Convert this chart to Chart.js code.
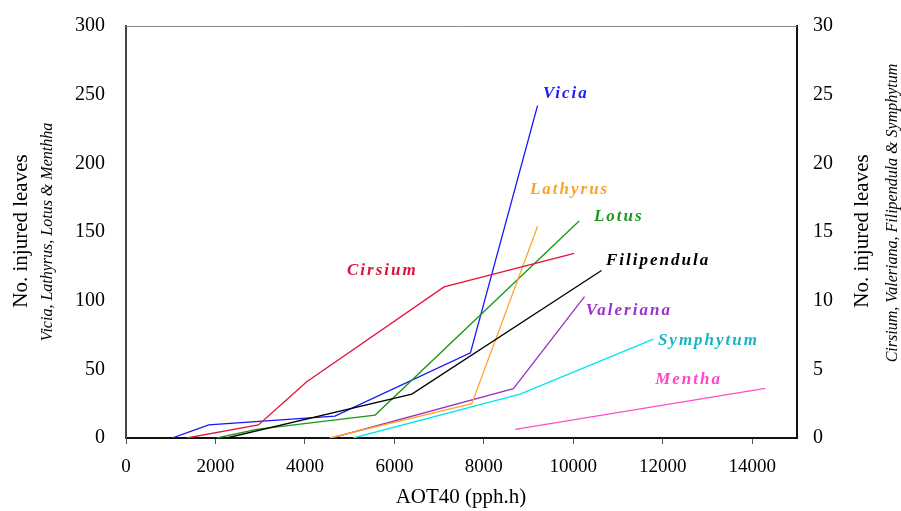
<!DOCTYPE html>
<html>
<head>
<meta charset="utf-8">
<script src="https://cdn.jsdelivr.net/npm/chart.js@4"></script>
<style>
html,body{margin:0;padding:0;background:#fff;}
#wrap{width:901px;height:511px;position:relative;}
</style>
</head>
<body>
<div id="wrap"><canvas id="c" width="901" height="511"></canvas></div>
<script>
// X tick labels
const xTicks = [0, 2000, 4000, 6000, 8000, 10000, 12000, 14000];
const yLeftTicks = [0, 50, 100, 150, 200, 250, 300];
const yRightTicks = [0, 5, 10, 15, 20, 25, 30];

// Left-axis series (Vicia, Lathyrus, Lotus, Mentha)
const viciaX = [1030, 1850, 4670, 7700, 9200];
const viciaY = [0, 9.5, 16, 62, 242];
const lathyrusX = [4550, 7730, 9200];
const lathyrusY = [0, 25, 154];
const lotusX = [2030, 2920, 5570, 10130];
const lotusY = [0, 6.3, 16.7, 158];
const menthaX = [8700, 14290];
const menthaY = [6.3, 36.2];

// Right-axis series (Cirsium, Valeriana, Filipendula, Symphytum)
const cirsiumX = [1360, 2960, 4040, 7110, 10020];
const cirsiumY = [0, 0.95, 4.1, 11.0, 13.45];
const filipendulaX = [2250, 6390, 10630];
const filipendulaY = [0, 3.2, 12.2];
const valerianaX = [4600, 8660, 10250];
const valerianaY = [0, 3.6, 10.3];
const symphytumX = [5080, 8810, 11790];
const symphytumY = [0, 3.2, 7.2];

const pts = (xs, ys) => xs.map((x, i) => ({x: x, y: ys[i]}));

// label text for each series, placed by data coordinates (left axis units)
const labelNames = ['Vicia', 'Lathyrus', 'Lotus', 'Cirsium', 'Filipendula', 'Valeriana', 'Symphytum', 'Mentha'];
const labelAtX = [9320, 9030, 10460, 4940, 10730, 10280, 11890, 11830];
const labelAtY = [251, 181, 161, 122, 129, 92.5, 70.6, 42.2];
const labelColors = ['#1a1aff', '#f7a52a', '#1a9a1a', '#e0103c', '#000000', '#9933cc', '#18b4c2', '#ff44c8'];

const lineColors = {
  vicia: '#1414ff', lathyrus: '#ffa726', lotus: '#159a15', mentha: '#ff4ec4',
  cirsium: '#e0143c', filipendula: '#000000', valeriana: '#9b30c4', symphytum: '#00e4ec'
};

function ds(label, data, color, axis) {
  return {label, data, borderColor: color, backgroundColor: color, borderWidth: 1.3,
    pointRadius: 0, tension: 0, yAxisID: axis, fill: false};
}

const SERIF = '"Liberation Serif", "Times New Roman", serif';

const decor = {
  id: 'decor',
  afterDraw(chart) {
    const ctx = chart.ctx;
    const a = chart.chartArea;
    const xs = chart.scales.x, yl = chart.scales.yL;
    ctx.save();
    // top border
    ctx.strokeStyle = '#888';
    ctx.lineWidth = 1;
    ctx.beginPath();
    ctx.moveTo(a.left, a.top + 0.5);
    ctx.lineTo(a.right, a.top + 0.5);
    ctx.stroke();

    // series labels
    ctx.font = 'italic bold 17px ' + SERIF;
    ctx.textBaseline = 'middle';
    ctx.textAlign = 'left';
    try { ctx.letterSpacing = '2px'; } catch (e) {}
    labelNames.forEach((t, i) => {
      ctx.fillStyle = labelColors[i];
      ctx.fillText(t, xs.getPixelForValue(labelAtX[i]), yl.getPixelForValue(labelAtY[i]));
    });
    try { ctx.letterSpacing = '0px'; } catch (e) {}

    // axis titles
    ctx.fillStyle = '#000';
    ctx.textAlign = 'center';
    ctx.textBaseline = 'middle';
    const rot = (txt, x, y, font) => {
      ctx.save();
      ctx.translate(x, y);
      ctx.rotate(-Math.PI / 2);
      ctx.font = font;
      ctx.fillText(txt, 0, 0);
      ctx.restore();
    };
    rot('No. injured leaves', 21, 231, '21px ' + SERIF);
    rot('Vicia, Lathyrus, Lotus & Menthha', 48, 232, 'italic 16px ' + SERIF);
    rot('No. injured leaves', 862, 231, '21px ' + SERIF);
    rot('Cirsium, Valeriana, Filipendula & Symphytum', 893, 213, 'italic 16px ' + SERIF);
    ctx.font = '21px ' + SERIF;
    ctx.fillText('AOT40 (pph.h)', 461, 497);
    ctx.restore();
  }
};

const zeroPad = s => { s.paddingTop = 0; s.paddingBottom = 0; s.paddingLeft = 0; s.paddingRight = 0; };

new Chart(document.getElementById('c'), {
  type: 'line',
  data: {
    datasets: [
      ds('Cirsium', pts(cirsiumX, cirsiumY), lineColors.cirsium, 'yR'),
      ds('Filipendula', pts(filipendulaX, filipendulaY), lineColors.filipendula, 'yR'),
      ds('Symphytum', pts(symphytumX, symphytumY), lineColors.symphytum, 'yR'),
      ds('Lathyrus', pts(lathyrusX, lathyrusY), lineColors.lathyrus, 'yL'),
      ds('Valeriana', pts(valerianaX, valerianaY), lineColors.valeriana, 'yR'),
      ds('Lotus', pts(lotusX, lotusY), lineColors.lotus, 'yL'),
      ds('Vicia', pts(viciaX, viciaY), lineColors.vicia, 'yL'),
      ds('Mentha', pts(menthaX, menthaY), lineColors.mentha, 'yL')
    ]
  },
  options: {
    responsive: false,
    animation: false,
    devicePixelRatio: 1,
    layout: {padding: {top: 26, left: 0, right: 0, bottom: 0}},
    plugins: {legend: {display: false}, tooltip: {enabled: false}, title: {display: false}},
    scales: {
      x: {
        type: 'linear', min: 0, max: 15000,
        afterBuildTicks: s => { s.ticks = xTicks.map(v => ({value: v})); },
        afterFit: s => { s.height = 73; zeroPad(s); },
        grid: {display: true, drawOnChartArea: false, drawTicks: true, tickLength: 6, color: '#555', lineWidth: 1},
        border: {display: true, color: '#111', width: 2},
        ticks: {color: '#000', font: {family: SERIF, size: 19}, padding: 12, maxRotation: 0, autoSkip: false,
          callback: v => String(v)}
      },
      yL: {
        type: 'linear', position: 'left', min: 0, max: 300,
        afterBuildTicks: s => { s.ticks = yLeftTicks.map(v => ({value: v})); },
        afterFit: s => { s.width = 126; zeroPad(s); },
        grid: {display: true, drawOnChartArea: false, drawTicks: false},
        border: {display: true, color: '#444', width: 2},
        ticks: {color: '#000', font: {family: SERIF, size: 20}, padding: 21, callback: v => String(v)}
      },
      yR: {
        type: 'linear', position: 'right', min: 0, max: 30,
        afterBuildTicks: s => { s.ticks = yRightTicks.map(v => ({value: v})); },
        afterFit: s => { s.width = 104; zeroPad(s); },
        grid: {display: true, drawOnChartArea: false, drawTicks: false},
        border: {display: true, color: '#111', width: 2},
        ticks: {color: '#000', font: {family: SERIF, size: 20}, padding: 16, callback: v => String(v)}
      }
    }
  },
  plugins: [decor]
});
</script>
</body>
</html>
